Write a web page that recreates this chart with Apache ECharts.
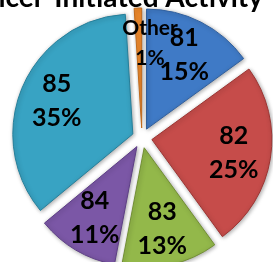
<!DOCTYPE html>
<html>
<head>
<meta charset="utf-8">
<style>
  html, body { margin: 0; padding: 0; background: #fff; }
  #chart { width: 273px; height: 262px; }
</style>
<script src="https://cdn.jsdelivr.net/npm/echarts@6/dist/echarts.min.js"></script>
</head>
<body>
<div id="chart"></div>
<script>
// 数据
const categories = ['81', '82', '83', '84', '85', 'Other'];
const percents = [15, 25, 13, 11, 35, 1];
const colors = ['#3f7ac6', '#c64c4a', '#93b84a', '#7b57a6', '#38a3c3', '#ef8a2c'];
const borders = ['#2f5f9e', '#9c3533', '#728f34', '#5e3f86', '#267f9a', '#c06a1c'];

const center = [142, 138];
const radius = 120;
const offset = 10;

let myChart = echarts.init(document.getElementById('chart'));

// 扇形（全部分离）
let pieData = categories.map((name, i) => ({
  name: name,
  value: percents[i],
  selected: true,
  itemStyle: { color: colors[i], borderColor: borders[i], borderWidth: 1 }
}));

// 透明的一层，只用来放标签（Other 太窄，放不下，单独画）
let labelData = categories.map((name, i) => {
  let item = { name: name, value: percents[i], selected: true };
  if (name === 'Other') item.label = { show: false };
  return item;
});

// Other 标签的位置：按扇形中线算
let total = percents.reduce((a, b) => a + b, 0);
let iOther = categories.indexOf('Other');
let before = percents.slice(0, iOther).reduce((a, b) => a + b, 0);
let midAngle = (before + percents[iOther] / 2) / total * 2 * Math.PI;
let otherR = 95;
let otherX = center[0] + Math.sin(midAngle) * otherR + 11;
let otherY = center[1] - Math.cos(midAngle) * otherR;

myChart.setOption({
  animation: false,
  title: {
    text: 'Officer-Initiated Activity',
    right: 10,
    top: -16,
    padding: 0,
    textStyle: { fontSize: 28, fontWeight: 'bold', fontFamily: 'Lato', color: '#000' }
  },
  graphic: [{
    type: 'text',
    x: otherX,
    y: otherY,
    z: 100,
    style: {
      text: categories[iOther] + '\n' + percents[iOther] + '%',
      fontFamily: 'Lato',
      fontWeight: 'bold',
      fontSize: 21,
      lineHeight: 30,
      fill: '#000',
      align: 'center',
      verticalAlign: 'middle'
    }
  }],
  series: [{
    type: 'pie',
    center: center,
    radius: radius,
    startAngle: 90,
    selectedMode: 'multiple',
    selectedOffset: offset,
    label: { show: false },
    labelLine: { show: false },
    itemStyle: { shadowBlur: 4, shadowColor: 'rgba(0,0,0,0.35)', shadowOffsetX: 1, shadowOffsetY: 1 },
    emphasis: { disabled: true },
    data: pieData
  }, {
    type: 'pie',
    center: center,
    radius: [40, radius],
    startAngle: 90,
    silent: true,
    selectedMode: 'multiple',
    selectedOffset: offset,
    percentPrecision: 0,
    itemStyle: { color: 'transparent' },
    emphasis: { disabled: true },
    labelLine: { show: false },
    label: {
      show: true,
      position: 'inside',
      formatter: '{b}\n{d}%',
      fontFamily: 'Lato',
      fontWeight: 'bold',
      fontSize: 25,
      lineHeight: 34,
      color: '#000'
    },
    data: labelData
  }]
});
</script>
</body>
</html>
